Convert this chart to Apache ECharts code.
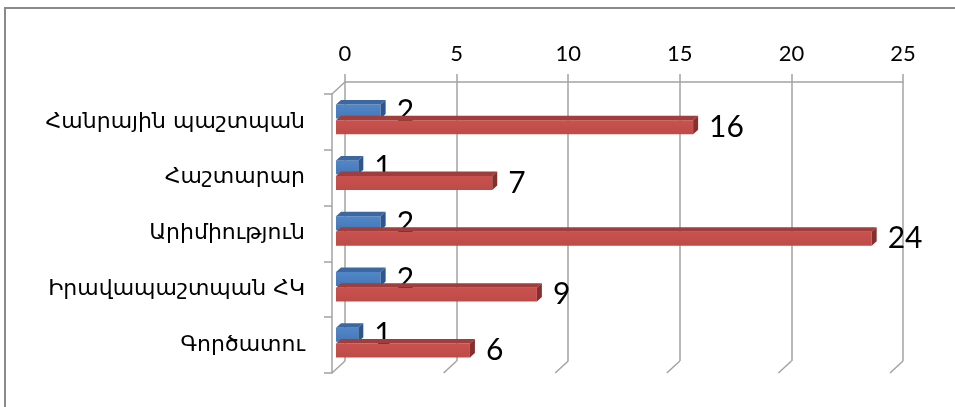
<!DOCTYPE html>
<html>
<head>
<meta charset="utf-8">
<script src="https://cdn.jsdelivr.net/npm/echarts@6/dist/echarts.min.js"></script>
<style>
  html, body { margin: 0; padding: 0; background: #fff; overflow: hidden; }
  #chart { width: 955px; height: 407px; }
</style>
</head>
<body>
<div id="chart"></div>
<script>
// Categories (top to bottom) and the two series of counts
const categories = ['Հանրային պաշտպան', 'Հաշտարար', 'Արիմիություն', 'Իրավապաշտպան ՀԿ', 'Գործատու'];
const seriesBlue = [2, 1, 2, 2, 1];
const seriesRed = [16, 7, 24, 9, 6];
const xTicks = [0, 5, 10, 15, 20, 25];

// Back wall of the 3D box; the front plane is shifted by DEPTH
const BACK = { left: 345, top: 82, width: 558, height: 279 };
const DEPTH = { x: -13, y: 12 };
const GRID_COLOR = '#a3a3a3';

// Bar prism geometry (fractions of the category band)
const BAR = { inset: 4, h: 0.25, dx: 5, dy: 4.5 };

const chart = echarts.init(document.getElementById('chart'));

function barRenderer(offsetFrac, colors) {
  return function (params, api) {
    const v = api.value(0);
    const ci = api.value(1);
    const p0 = api.coord([0, ci]);
    const p1 = api.coord([v, ci]);
    const band = api.size([0, 1])[1];
    const bandTop = p0[1] - band / 2;
    const h = band * BAR.h;
    const y0 = bandTop + band * offsetFrac;
    const x0 = p0[0] + BAR.inset;
    const x1 = p1[0] + BAR.inset;
    const dx = BAR.dx, dy = BAR.dy;
    return {
      type: 'group',
      children: [
        {
          type: 'rect',
          shape: { x: x0, y: y0, width: x1 - x0, height: h },
          style: {
            fill: new echarts.graphic.LinearGradient(0, 0, 0, 1, [
              { offset: 0, color: colors.front[0] },
              { offset: 1, color: colors.front[1] }
            ])
          }
        },
        {
          type: 'polygon',
          shape: { points: [[x0, y0], [x1, y0], [x1 + dx, y0 - dy], [x0 + dx, y0 - dy]] },
          style: { fill: colors.top }
        },
        {
          type: 'polygon',
          shape: { points: [[x1, y0], [x1 + dx, y0 - dy], [x1 + dx, y0 + h - dy], [x1, y0 + h]] },
          style: { fill: colors.side }
        },
        {
          type: 'text',
          style: {
            text: String(v),
            x: x1 + dx + 11,
            y: y0 + h / 2,
            verticalAlign: 'middle',
            align: 'left',
            font: '30px Lato, "Noto Sans", sans-serif',
            fill: '#000'
          }
        }
      ]
    };
  };
}

// Floor edges under every gridline and the top edge of the side wall
function frameRenderer(params, api) {
  const v = api.value(0);
  const p = api.coord([v, 0]);
  const cs = params.coordSys;
  const bottom = cs.y + cs.height;
  const children = [{
    type: 'line',
    shape: { x1: p[0], y1: bottom, x2: p[0] + DEPTH.x, y2: bottom + DEPTH.y },
    style: { stroke: GRID_COLOR, lineWidth: 1.5 }
  }];
  if (v === xTicks[0]) {
    children.push({
      type: 'line',
      shape: { x1: p[0], y1: cs.y, x2: p[0] + DEPTH.x, y2: cs.y + DEPTH.y },
      style: { stroke: GRID_COLOR, lineWidth: 1.5 }
    });
  }
  return { type: 'group', children };
}

const option = {
  backgroundColor: '#fff',
  animation: false,
  graphic: [{
    type: 'polyline',
    shape: { points: [[5, 500], [5, 8], [1200, 8]] },
    style: { fill: 'none', stroke: '#8a8a8a', lineWidth: 2 },
    silent: true,
    z: -1
  }],
  grid: [
    { left: BACK.left, top: BACK.top, width: BACK.width, height: BACK.height },
    { left: BACK.left + DEPTH.x, top: BACK.top + DEPTH.y, width: BACK.width, height: BACK.height }
  ],
  xAxis: [
    {
      gridIndex: 0, type: 'value', position: 'top',
      min: xTicks[0], max: xTicks[xTicks.length - 1], interval: 5,
      axisLine: { show: true, lineStyle: { color: GRID_COLOR, width: 1.5 } },
      axisTick: { show: true, length: 8, lineStyle: { color: GRID_COLOR, width: 1.5 } },
      axisLabel: { color: '#000', fontSize: 22, fontFamily: 'Lato, "Noto Sans", sans-serif', margin: 17 },
      splitLine: { show: true, lineStyle: { color: GRID_COLOR, width: 1.5 } }
    },
    {
      gridIndex: 1, type: 'value', show: false,
      min: xTicks[0], max: xTicks[xTicks.length - 1], interval: 5,
      splitLine: { show: false }
    }
  ],
  yAxis: [
    {
      gridIndex: 0, type: 'category', data: categories, inverse: true, show: false
    },
    {
      gridIndex: 1, type: 'category', data: categories, inverse: true,
      axisLine: { show: true, lineStyle: { color: GRID_COLOR, width: 1.5 } },
      axisTick: { show: true, length: 8, lineStyle: { color: GRID_COLOR, width: 1.5 } },
      axisLabel: { color: '#000', fontSize: 22, fontFamily: '"DejaVu Sans", sans-serif', margin: 27 }
    }
  ],
  series: [
    {
      type: 'custom', name: 'frame', xAxisIndex: 0, yAxisIndex: 0, silent: true,
      data: xTicks.map(v => [v]),
      encode: { x: 0 },
      renderItem: frameRenderer,
      z: 1
    },
    {
      type: 'custom', name: 'blue', xAxisIndex: 1, yAxisIndex: 1,
      data: seriesBlue.map((v, i) => [v, i]),
      encode: { x: 0, y: 1 },
      renderItem: barRenderer(0.19, { front: ['#5187c8', '#4677b6'], top: '#3b67a3', side: '#2d568c' }),
      z: 2
    },
    {
      type: 'custom', name: 'red', xAxisIndex: 1, yAxisIndex: 1,
      data: seriesRed.map((v, i) => [v, i]),
      encode: { x: 0, y: 1 },
      renderItem: barRenderer(0.47, { front: ['#c9524f', '#bd4b48'], top: '#a13d3a', side: '#85302e' }),
      z: 3
    }
  ]
};

chart.setOption(option);
</script>
</body>
</html>
